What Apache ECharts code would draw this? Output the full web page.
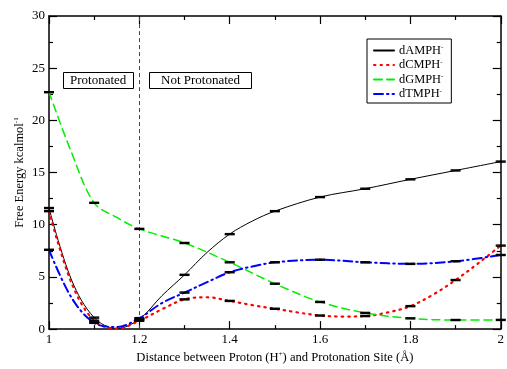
<!DOCTYPE html>
<html>
<head>
    <meta charset="utf-8">
    <title>Free Energy</title>
    <script src="https://cdn.jsdelivr.net/npm/echarts@6/dist/echarts.min.js"></script>
    <style>
        html, body { margin: 0; padding: 0; background: #fff; }
    </style>
</head>
<body>
    <div id="main" style="width: 507px;height:369px;"></div>
    <script type="text/javascript">
        // values, [distance, energy]
        var dAMPH = [[1.0, 11.6], [1.05, 4.7], [1.1, 1.1], [1.15, 0.05], [1.2, 0.95], [1.25, 3.2], [1.3, 5.2],
            [1.35, 7.35], [1.4, 9.1], [1.45, 10.35], [1.5, 11.3], [1.6, 12.65], [1.7, 13.45], [1.8, 14.35],
            [1.9, 15.2], [2.0, 16.05]];
        var dCMPH = [[1.0, 11.3], [1.05, 4.4], [1.1, 0.8], [1.15, 0.05], [1.2, 0.8], [1.25, 1.9], [1.3, 2.85],
            [1.35, 3.05], [1.4, 2.7], [1.45, 2.3], [1.5, 1.95], [1.55, 1.6], [1.6, 1.3], [1.65, 1.2], [1.7, 1.25],
            [1.75, 1.6], [1.8, 2.2], [1.85, 3.3], [1.9, 4.7], [1.95, 6.3], [2.0, 8.0]];
        var dGMPH = [[1.0, 22.7], [1.05, 16.9], [1.1, 12.1], [1.15, 10.7], [1.2, 9.6], [1.3, 8.25], [1.4, 6.4],
            [1.5, 4.35], [1.6, 2.6], [1.7, 1.55], [1.8, 1.03], [1.9, 0.87], [2.0, 0.88]];
        var dTMPH = [[1.0, 7.6], [1.05, 3.0], [1.1, 0.6], [1.15, 0.2], [1.2, 1.05], [1.25, 2.5], [1.3, 3.5],
            [1.35, 4.5], [1.4, 5.45], [1.45, 6.0], [1.5, 6.4], [1.6, 6.65], [1.7, 6.4], [1.8, 6.25], [1.9, 6.5],
            [2.0, 7.1]];
        var errHalf = 0.05;

        var names = ['dAMPH', 'dCMPH', 'dGMPH', 'dTMPH'];
        var regionLabels = ['Protonated', 'Not Protonated'];
        var font = "'Liberation Serif', 'DejaVu Serif', serif";

        // error bars sit at every 0.1 step
        function bars(d) {
            return d.filter(function (p) {
                return Math.abs(p[0] * 10 - Math.round(p[0] * 10)) < 1e-6;
            }).map(function (p) { return [p[0], p[1], errHalf]; });
        }
        var errData = [].concat(bars(dAMPH), bars(dCMPH), bars(dGMPH), bars(dTMPH));

        var myChart = echarts.init(document.getElementById('main'));

        var axisCommon = {
            axisLine: { onZero: false, lineStyle: { color: '#000', width: 1.5 } },
            axisTick: { inside: true, length: 8, lineStyle: { color: '#000', width: 1.2 } },
            minorTick: { show: true, splitNumber: 2, length: 4, lineStyle: { color: '#000', width: 1.2 } },
            splitLine: { show: false }
        };
        var supRich = { s: { fontFamily: font, fontSize: 7, verticalAlign: 'top', padding: [0, 0, 6, 0] } };

        function lineSeries(name, data, color, type, width, extra) {
            var s = {
                name: name,
                type: 'line',
                data: data,
                smooth: 0.35,
                symbol: 'none',
                color: color,
                lineStyle: { color: color, type: type, width: width, cap: 'round' },
                z: 3
            };
            for (var k in extra) s[k] = extra[k];
            return s;
        }

        function boxLabel(text, left, padH) {
            return {
                text: text, left: left, top: 72,
                padding: [2, padH, 2, padH],
                borderColor: '#000', borderWidth: 1,
                backgroundColor: '#fff',
                textStyle: { fontFamily: font, fontSize: 13, fontWeight: 'normal', color: '#000' }
            };
        }

        var option = {
            animation: false,
            title: [boxLabel(regionLabels[0], 63, 7), boxLabel(regionLabels[1], 149, 12)],
            grid: { left: 49, right: 3, top: 16, bottom: 34 },
            legend: {
                orient: 'vertical',
                left: 367,
                top: 39,
                data: names,
                itemWidth: 20,
                itemHeight: 10,
                itemGap: 2,
                padding: [5, 8, 3, 6],
                borderColor: '#000',
                borderWidth: 1,
                itemStyle: { opacity: 0 },
                formatter: function (n) { return n + '{s|-}'; },
                textStyle: { fontFamily: font, fontSize: 12.4, color: '#000', rich: supRich }
            },
            xAxis: [
                Object.assign({
                    type: 'value', min: 1, max: 2, interval: 0.2,
                    name: 'Distance between Proton (H{s|+}) and Protonation Site (Å)',
                    nameLocation: 'middle', nameGap: 17,
                    nameTextStyle: { fontFamily: font, fontSize: 12.6, color: '#000', rich: supRich },
                    axisLabel: { fontFamily: font, fontSize: 13, color: '#000', margin: 4 }
                }, axisCommon),
                Object.assign({
                    type: 'value', min: 1, max: 2, interval: 0.2, position: 'top',
                    axisLabel: { show: false }
                }, axisCommon)
            ],
            yAxis: [
                Object.assign({
                    type: 'value', min: 0, max: 30, interval: 5,
                    name: 'Free Energy kcalmol{s|-1}',
                    nameLocation: 'middle', nameGap: 23, nameMoveOverlap: false,
                    nameTextStyle: { fontFamily: font, fontSize: 12.5, color: '#000', rich: supRich },
                    axisLabel: { fontFamily: font, fontSize: 13, color: '#000', margin: 4 }
                }, axisCommon),
                Object.assign({
                    type: 'value', min: 0, max: 30, interval: 5, position: 'right',
                    axisLabel: { show: false }
                }, axisCommon)
            ],
            series: [
                lineSeries('dAMPH', dAMPH, '#000000', 'solid', 1, {
                    markLine: {
                        silent: true, symbol: 'none', label: { show: false },
                        lineStyle: { color: '#444', type: [4, 3], width: 1 },
                        data: [{ xAxis: 1.2 }]
                    }
                }),
                lineSeries('dCMPH', dCMPH, '#ff0000', [1.5, 5], 2.2),
                lineSeries('dGMPH', dGMPH, '#00ee00', [8, 5], 1.5),
                lineSeries('dTMPH', dTMPH, '#0000ff', [9, 4, 1.5, 4], 2),
                {
                    type: 'custom',
                    data: errData,
                    z: 5,
                    renderItem: function (params, api) {
                        var x = api.value(0), y = api.value(1), e = api.value(2);
                        var t = api.coord([x, y + e]);
                        var b = api.coord([x, y - e]);
                        var w = 5;
                        var st = { stroke: '#000', lineWidth: 1.4 };
                        return {
                            type: 'group',
                            children: [
                                { type: 'line', shape: { x1: t[0] - w, y1: t[1], x2: t[0] + w, y2: t[1] }, style: st },
                                { type: 'line', shape: { x1: b[0] - w, y1: b[1], x2: b[0] + w, y2: b[1] }, style: st },
                                { type: 'line', shape: { x1: t[0], y1: t[1], x2: b[0], y2: b[1] }, style: st }
                            ]
                        };
                    }
                }
            ]
        };

        myChart.setOption(option);
    </script>
</body>
</html>
